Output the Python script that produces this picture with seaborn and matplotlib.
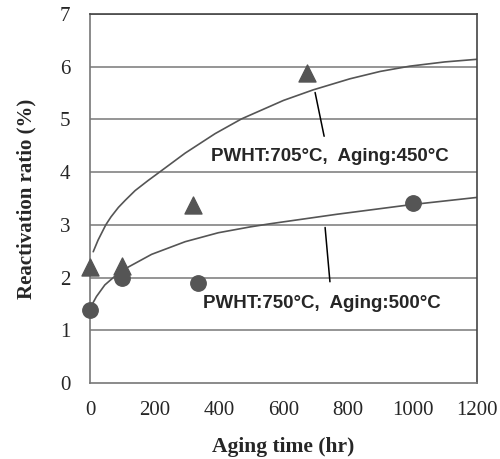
import numpy as np
import pandas as pd
import matplotlib
matplotlib.use("Agg")
import matplotlib.pyplot as plt
import seaborn as sns

# measured points
tri_time = [0, 100, 320, 673]
tri_ratio = [2.2, 2.22, 3.38, 5.88]
circ_time = [0, 100, 335, 1000]
circ_ratio = [1.38, 2.0, 1.9, 3.42]

# trend curves
upper_time = [10, 25, 49, 65, 88, 110, 140, 180, 220, 295, 388, 470, 600, 692, 806, 900, 992, 1100, 1200]
upper_ratio = [2.49, 2.71, 3.0, 3.15, 3.33, 3.47, 3.65, 3.84, 4.02, 4.36, 4.73, 5.01, 5.36, 5.56, 5.77,
               5.91, 6.01, 6.09, 6.14]
lower_time = [3, 20, 46, 78, 119, 191, 295, 398, 496, 558, 765, 992, 1200]
lower_ratio = [1.45, 1.64, 1.86, 2.03, 2.2, 2.44, 2.68, 2.85, 2.96, 3.02, 3.2, 3.38, 3.52]

x_ticks = [0, 200, 400, 600, 800, 1000, 1200]
y_ticks = [0, 1, 2, 3, 4, 5, 6, 7]

label_upper = "PWHT:705°C,  Aging:450°C"
label_lower = "PWHT:750°C,  Aging:500°C"

sns.set_style("white")
serif = ["Liberation Serif", "DejaVu Serif"]
sans = ["Liberation Sans", "DejaVu Sans"]

fig = plt.figure(figsize=(5, 4.59), dpi=100)
ax = fig.add_axes([0.18, 0.1656, 0.774, 0.804])

grey = "#555555"
for yv in y_ticks[1:]:
    ax.axhline(yv, color="#8c8c8c", lw=1.3, zorder=0)

curves = pd.DataFrame({"t": upper_time, "r": upper_ratio})
sns.lineplot(data=curves, x="t", y="r", color=grey, lw=1.2, estimator=None, sort=False, ax=ax)
curves2 = pd.DataFrame({"t": lower_time, "r": lower_ratio})
sns.lineplot(data=curves2, x="t", y="r", color=grey, lw=1.2, estimator=None, sort=False, ax=ax)

sns.scatterplot(x=tri_time, y=tri_ratio, marker="^", s=150, color=grey, edgecolor=grey,
                ax=ax, clip_on=False, zorder=5)
sns.scatterplot(x=circ_time, y=circ_ratio, marker="o", s=125, color=grey, edgecolor=grey,
                ax=ax, clip_on=False, zorder=5)

# labels with leader lines
ax.plot([698, 726], [5.51, 4.68], color="black", lw=1.1)
ax.plot([729, 744], [2.95, 1.92], color="black", lw=1.1)
ax.text(744, 4.29, label_upper, ha="center", va="center", fontsize=13.5,
        fontweight="bold", family=sans)
ax.text(720, 1.51, label_lower, ha="center", va="center", fontsize=13.5,
        fontweight="bold", family=sans)

ax.set_xlim(0, 1200)
ax.set_ylim(0, 7)
ax.set_xticks(x_ticks)
ax.set_yticks(y_ticks)
ax.tick_params(axis="both", direction="out", length=5, width=1.2, color="#777777",
               labelsize=15)
ax.tick_params(axis="x", pad=8)
ax.tick_params(axis="y", length=7, pad=7)
for lab in ax.get_xticklabels() + ax.get_yticklabels():
    lab.set_family(serif)

for side in ["left", "bottom"]:
    ax.spines[side].set_color("#777777")
    ax.spines[side].set_linewidth(1.2)
for side in ["right", "top"]:
    ax.spines[side].set_color("#444444")
    ax.spines[side].set_linewidth(1.2)

ax.set_xlabel("Aging time (hr)", fontsize=15.5, fontweight="bold", family=serif, labelpad=12)
ax.set_ylabel("Reactivation ratio (%)", fontsize=15, fontweight="bold", family=serif, labelpad=17)

fig.savefig("out.png", dpi=100)
